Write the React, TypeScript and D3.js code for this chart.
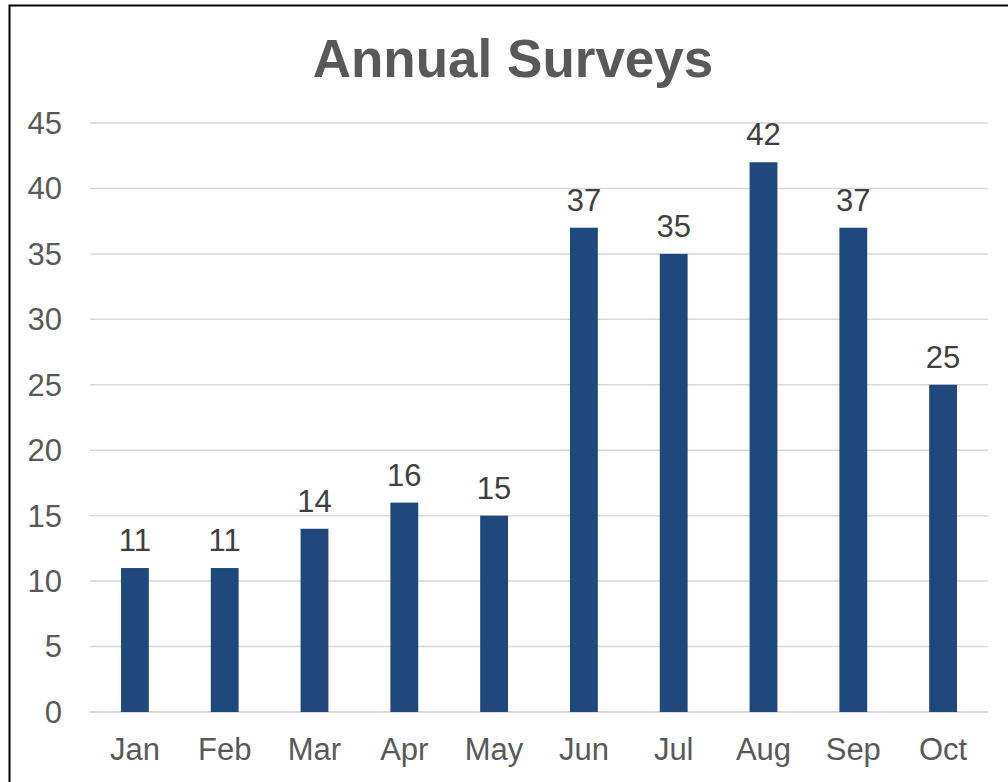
import React from 'react';
import * as d3 from 'd3';

const months = ['Jan', 'Feb', 'Mar', 'Apr', 'May', 'Jun', 'Jul', 'Aug', 'Sep', 'Oct'];
const surveys = [11, 11, 14, 16, 15, 37, 35, 42, 37, 25];
const yTicks = [0, 5, 10, 15, 20, 25, 30, 35, 40, 45];

const WIDTH = 1008;
const HEIGHT = 782;
const margin = { top: 123, right: 20, bottom: 70, left: 90 };
const FONT = 'Arial, "Liberation Sans", sans-serif';

export default function App() {
  const plotRight = 988;
  const plotBottom = 712;

  const x = d3
    .scaleBand<string>()
    .domain(months)
    .range([margin.left, plotRight])
    .paddingInner(0.69)
    .paddingOuter(0.345);

  const y = d3.scaleLinear().domain([0, 45]).range([plotBottom, margin.top]);

  return (
    <div style={{ position: 'fixed', left: 0, top: 0 }}>
      <svg width={WIDTH} height={HEIGHT} style={{ display: 'block', background: '#fff' }}>
        {/* chart border (cropped on right/bottom) */}
        <rect x={9.5} y={5.5} width={1020} height={800} fill="#fff" stroke="#000" strokeWidth={2} />

        <text
          x={513}
          y={77}
          textAnchor="middle"
          fontFamily={FONT}
          fontWeight="bold"
          fontSize={53}
          fill="#595959"
        >
          Annual Surveys
        </text>

        {/* gridlines + y labels */}
        {yTicks.map((t) => (
          <g key={t}>
            <line
              x1={margin.left}
              x2={plotRight}
              y1={y(t)}
              y2={y(t)}
              stroke="#d9d9d9"
              strokeWidth={t === 0 ? 2 : 1.5}
            />
            <text
              x={62}
              y={y(t)}
              dy="0.35em"
              textAnchor="end"
              fontFamily={FONT}
              fontSize={31}
              fill="#595959"
            >
              {t}
            </text>
          </g>
        ))}

        {/* bars */}
        {months.map((m, i) => (
          <rect
            key={m}
            x={x(m)}
            y={y(surveys[i])}
            width={x.bandwidth()}
            height={plotBottom - y(surveys[i])}
            fill="#1f497d"
          />
        ))}

        {/* data labels */}
        {months.map((m, i) => (
          <text
            key={m}
            x={(x(m) || 0) + x.bandwidth() / 2}
            y={y(surveys[i]) - 17}
            textAnchor="middle"
            fontFamily={FONT}
            fontSize={31}
            fill="#404040"
          >
            {surveys[i]}
          </text>
        ))}

        {/* x labels */}
        {months.map((m) => (
          <text
            key={m}
            x={(x(m) || 0) + x.bandwidth() / 2}
            y={760}
            textAnchor="middle"
            fontFamily={FONT}
            fontSize={31}
            fill="#595959"
          >
            {m}
          </text>
        ))}
      </svg>
    </div>
  );
}
